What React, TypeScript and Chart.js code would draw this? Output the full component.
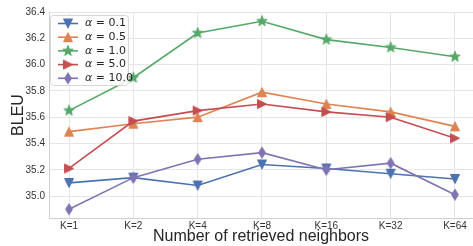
import { useEffect, useRef } from "react";
import { Chart, registerables } from "chart.js";
Chart.register(...registerables);

const categories = ["K=1", "K=2", "K=4", "K=8", "K=16", "K=32", "K=64"];
const seriesNames = ["0.1", "0.5", "1.0", "5.0", "10.0"];
const alpha01 = [35.1, 35.14, 35.08, 35.24, 35.21, 35.17, 35.13];
const alpha05 = [35.49, 35.55, 35.6, 35.79, 35.7, 35.64, 35.53];
const alpha10 = [35.65, 35.9, 36.24, 36.33, 36.19, 36.13, 36.06];
const alpha50 = [35.21, 35.57, 35.65, 35.7, 35.64, 35.6, 35.44];
const alpha100 = [34.9, 35.14, 35.28, 35.33, 35.2, 35.25, 35.01];
const yTicks = [35.0, 35.2, 35.4, 35.6, 35.8, 36.0, 36.2, 36.4];

const seriesValues = [alpha01, alpha05, alpha10, alpha50, alpha100];
const colors = ["#4c72b0", "#dd8452", "#55a868", "#c44e52", "#8172b3"];
const shapes = ["tdown", "tup", "star", "tright", "diamond"];
const FONT = "'Liberation Sans', Arial, sans-serif";

function makeMarker(shape: string, color: string): HTMLCanvasElement {
  const c = document.createElement("canvas");
  c.width = 16;
  c.height = 16;
  const ctx = c.getContext("2d")!;
  ctx.translate(8, 8);
  ctx.fillStyle = color;
  ctx.strokeStyle = color;
  ctx.lineWidth = 1;
  ctx.lineJoin = "miter";
  ctx.beginPath();
  const h = 4.5;
  if (shape === "tdown") {
    ctx.moveTo(0, h);
    ctx.lineTo(-h, -h);
    ctx.lineTo(h, -h);
  } else if (shape === "tup") {
    ctx.moveTo(0, -h);
    ctx.lineTo(-h, h);
    ctx.lineTo(h, h);
  } else if (shape === "tright") {
    ctx.moveTo(h, 0);
    ctx.lineTo(-h, -h);
    ctx.lineTo(-h, h);
  } else if (shape === "diamond") {
    ctx.moveTo(0, -5.5);
    ctx.lineTo(3.4, 0);
    ctx.lineTo(0, 5.5);
    ctx.lineTo(-3.4, 0);
  } else {
    const R = 5.5;
    const r = 2.3;
    for (let i = 0; i < 10; i++) {
      const a = -Math.PI / 2 + (i * Math.PI) / 5;
      const rad = i % 2 === 0 ? R : r;
      const x = Math.cos(a) * rad;
      const y = Math.sin(a) * rad;
      if (i === 0) ctx.moveTo(x, y);
      else ctx.lineTo(x, y);
    }
  }
  ctx.closePath();
  ctx.fill();
  ctx.stroke();
  return c;
}

function makeLegendPlugin(markers: HTMLCanvasElement[]) {
  return {
    id: "boxLegend",
    afterDraw(chart: any) {
      const ctx = chart.ctx as CanvasRenderingContext2D;
      const x0 = 50.5, y0 = 15.5, w = 78, hgt = 70;
      ctx.save();
      ctx.beginPath();
      const r = 3;
      ctx.moveTo(x0 + r, y0);
      ctx.lineTo(x0 + w - r, y0);
      ctx.quadraticCurveTo(x0 + w, y0, x0 + w, y0 + r);
      ctx.lineTo(x0 + w, y0 + hgt - r);
      ctx.quadraticCurveTo(x0 + w, y0 + hgt, x0 + w - r, y0 + hgt);
      ctx.lineTo(x0 + r, y0 + hgt);
      ctx.quadraticCurveTo(x0, y0 + hgt, x0, y0 + hgt - r);
      ctx.lineTo(x0, y0 + r);
      ctx.quadraticCurveTo(x0, y0, x0 + r, y0);
      ctx.closePath();
      ctx.fillStyle = "rgba(255,255,255,0.85)";
      ctx.fill();
      ctx.strokeStyle = "#d6d6d6";
      ctx.lineWidth = 1;
      ctx.stroke();
      for (let i = 0; i < seriesNames.length; i++) {
        const y = 23.5 + i * 13.7;
        ctx.strokeStyle = colors[i];
        ctx.lineWidth = 1.6;
        ctx.beginPath();
        ctx.moveTo(58, y);
        ctx.lineTo(78, y);
        ctx.stroke();
        const m = markers[i];
        ctx.drawImage(m, 68 - m.width / 2, y - m.height / 2);
        ctx.fillStyle = "#262626";
        ctx.textBaseline = "middle";
        ctx.textAlign = "left";
        ctx.font = "italic 11px 'DejaVu Sans'";
        ctx.fillText("\u03b1", 85, y);
        const aw = ctx.measureText("\u03b1").width;
        ctx.font = "11px 'DejaVu Sans'";
        ctx.fillText(" = " + seriesNames[i], 85 + aw, y);
      }
      ctx.restore();
    },
  };
}

export default function App() {
  const ref = useRef<HTMLCanvasElement>(null);
  useEffect(() => {
    document.body.style.margin = "0";
    const markers = shapes.map((s, i) => makeMarker(s, colors[i]));
    const datasets = seriesValues.map((vals, i) => ({
      label: "\u03b1 = " + seriesNames[i],
      data: vals.map((v, j) => ({ x: j, y: v })),
      borderColor: colors[i],
      backgroundColor: colors[i],
      borderWidth: 1.6,
      pointStyle: markers[i],
      pointRadius: 5,
      tension: 0,
      clip: false as any,
      order: seriesValues.length - i,
    }));
    const chart = new Chart(ref.current!, {
      type: "line",
      data: { datasets },
      plugins: [makeLegendPlugin(markers)],
      options: {
        animation: false,
        responsive: false,
        maintainAspectRatio: false,
        layout: { autoPadding: false, padding: { top: 12, right: 0, left: 0, bottom: 0 } },
        plugins: { legend: { display: false }, tooltip: { enabled: false } },
        scales: {
          x: {
            type: "linear",
            min: -0.311,
            max: 6.28,
            afterBuildTicks: (s: any) => {
              s.ticks = categories.map((_, i) => ({ value: i }));
            },
            afterFit: (s: any) => {
              s.height = 28;
              s.paddingLeft = 0;
              s.paddingRight = 0;
            },
            ticks: {
              callback: (v: any) => categories[Math.round(Number(v))] ?? "",
              color: "#333",
              font: { size: 10, family: FONT },
              padding: 2,
              maxRotation: 0,
              autoSkip: false,
            },
            grid: { color: "#e6e6e6", drawTicks: false, lineWidth: 1 },
            border: { color: "#cfcfcf" },
            title: {
              display: true,
              text: "Number of retrieved neighbors",
              color: "#262626",
              font: { size: 16, family: FONT },
              padding: { top: 0, bottom: 0 },
            },
          },
          y: {
            type: "linear",
            min: 34.833,
            max: 36.4,
            afterBuildTicks: (s: any) => {
              s.ticks = yTicks.map((v) => ({ value: v }));
            },
            afterFit: (s: any) => {
              s.width = 49;
              s.paddingTop = 0;
              s.paddingBottom = 0;
            },
            ticks: {
              callback: (v: any) => Number(v).toFixed(1),
              color: "#333",
              font: { size: 10, family: FONT },
              padding: 4,
            },
            grid: { color: "#e6e6e6", drawTicks: false, lineWidth: 1 },
            border: { color: "#cfcfcf" },
            title: {
              display: true,
              text: "BLEU",
              color: "#262626",
              font: { size: 16, family: FONT },
              padding: { top: 9, bottom: 0 },
            },
          },
        },
      },
    });
    return () => chart.destroy();
  }, []);
  return <canvas ref={ref} width={473} height={246} style={{ display: "block" }} />;
}
